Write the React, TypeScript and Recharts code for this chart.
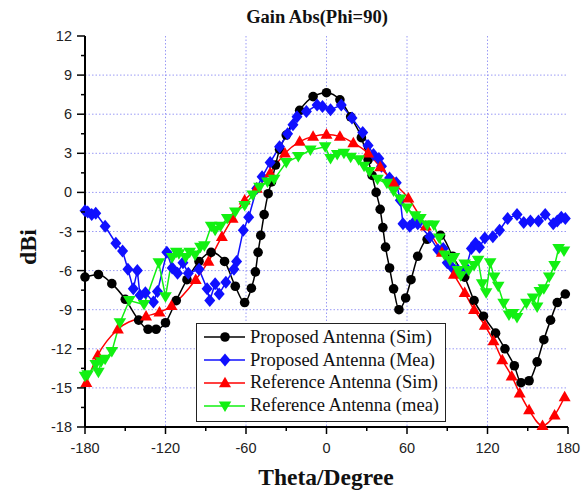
import React from 'react'
import { LineChart, Line, XAxis, YAxis, CartesianGrid, Legend } from 'recharts'

// theta (deg) / gain (dBi)
const PROP_SIM_THETA = [-180, -170, -160, -150, -140, -133, -127, -120, -112, -104, -95, -86, -76, -68, -61, -56, -53, -51, -49, -46.5, -43.5, -41, -38, -35, -30, -20, -10, 0, 10, 18, 26, 31, 34, 37, 40, 42, 44, 47, 50, 54, 59, 63, 68, 75, 85, 94, 103, 110, 117, 126, 133, 140, 145, 151, 157, 162, 167, 172, 178]
const PROP_SIM_GAIN = [-6.5, -6.3, -7.0, -8.2, -9.8, -10.5, -10.5, -10.0, -8.3, -6.7, -5.3, -4.6, -5.3, -7.2, -8.45, -7.35, -6.1, -4.6, -3.3, -1.7, -0.1, 0.8, 2.1, 3.3, 4.4, 6.3, 7.35, 7.65, 7.1, 5.8, 4.2, 2.5, 1.3, 0.0, -1.3, -2.7, -4.2, -5.8, -7.4, -9.0, -8.1, -6.7, -4.9, -3.6, -3.3, -4.9, -6.5, -8.3, -9.5, -10.8, -12.0, -13.3, -14.6, -14.45, -13.0, -11.3, -9.8, -8.45, -7.8]

const PROP_MEA_THETA = [-180, -178, -175, -172, -165, -157, -152, -148, -144, -141, -139, -135, -129, -126, -119, -115, -111, -107, -103, -95, -89, -87, -83, -80, -75, -69, -67, -62, -58, -52, -48, -42, -35, -29, -25, -22, -15, -7, -3, 3, 11, 19, 27, 31, 35, 39, 41, 47, 52, 55, 57, 62, 65, 68, 77, 83, 87, 90, 94, 98, 104, 108, 111, 114, 118, 124, 129, 135, 142, 147, 152, 158, 163, 169, 172, 175, 178]
const PROP_MEA_GAIN = [-1.4, -1.5, -1.7, -1.6, -2.6, -3.9, -4.5, -5.9, -7.4, -6.0, -7.9, -7.7, -8.4, -7.6, -4.6, -5.8, -6.2, -5.4, -6.2, -5.9, -7.4, -8.3, -7.0, -7.8, -6.9, -5.9, -5.3, -2.9, -1.9, 0.3, 1.2, 2.3, 3.5, 4.5, 5.2, 5.8, 6.2, 6.7, 6.6, 6.35, 6.7, 5.7, 4.6, 3.6, 2.9, 2.6, 2.0, 1.1, 0.75, -0.6, -2.4, -2.6, -2.3, -2.4, -3.4, -4.4, -4.3, -5.4, -5.8, -6.0, -5.8, -4.3, -3.9, -4.2, -3.5, -3.4, -2.9, -2.0, -1.7, -2.3, -2.2, -2.2, -1.7, -2.4, -2.2, -1.9, -2.0]

const REF_SIM_THETA = [-179, -170.5, -155.5, -134.5, -124.5, -115.5, -97.5, -88, -78, -70, -61, -52, -42, -31, -20, -10, 0, 10, 20, 31, 40, 50, 61, 74, 86, 95, 103, 110, 118, 124.5, 131, 138, 144, 151, 161, 170, 177.5]
const REF_SIM_GAIN = [-14.6, -12.5, -10.5, -9.5, -9.2, -8.7, -6.7, -5.3, -3.4, -2.0, -0.6, 0.3, 1.5, 3.0, 3.9, 4.3, 4.45, 4.3, 3.8, 3.0, 1.95, 0.75, -0.45, -2.6, -4.6, -6.3, -7.7, -9.0, -10.2, -11.4, -12.85, -14.1, -15.4, -16.7, -17.9, -17.1, -15.7]

const REF_MEA_THETA = [-180, -178, -172, -170, -168, -165, -160, -154, -147, -136, -125, -120, -115, -112, -110, -105, -102, -98, -94, -91, -86, -83, -79, -74, -68, -61, -55, -50, -44, -39, -30, -21, -12, -1, 3, 8, 13, 18, 24, 28, 32, 38, 45, 50, 55, 60, 66, 70, 75, 80, 84, 88, 92, 95, 98, 100, 103, 106, 110, 113, 116, 119, 122, 125, 128, 132, 136, 139, 142, 149, 154, 157, 159, 162, 166, 170, 173, 177]
const REF_MEA_GAIN = [-14.1, -14.0, -13.2, -13.8, -13.0, -12.8, -12.2, -10.0, -8.3, -8.6, -5.4, -8.0, -5.0, -4.6, -4.7, -5.0, -4.6, -4.8, -4.2, -4.1, -2.6, -2.9, -2.6, -2.0, -1.5, -1.0, -0.2, 0.4, 0.8, 1.0, 2.3, 2.75, 3.25, 3.5, 2.6, 2.9, 3.0, 2.7, 2.5, 2.0, 1.6, 1.0, 0.7, 0.1, -0.5, -1.2, -1.8, -2.0, -2.5, -2.5, -3.5, -4.8, -5.2, -5.0, -6.0, -6.4, -5.5, -6.0, -5.6, -5.2, -7.0, -7.7, -5.4, -6.5, -7.2, -8.5, -9.4, -9.3, -9.6, -8.5, -8.1, -8.8, -7.6, -7.4, -6.5, -5.6, -4.3, -4.5]

const X_MAJOR = [-180, -120, -60, 0, 60, 120, 180]
const X_ALL = [-180, -150, -120, -90, -60, -30, 0, 30, 60, 90, 120, 150, 180]
const Y_MAJOR = [-18, -15, -12, -9, -6, -3, 0, 3, 6, 9, 12]
const Y_ALL = [-18, -16.5, -15, -13.5, -12, -10.5, -9, -7.5, -6, -4.5, -3, -1.5, 0, 1.5, 3, 4.5, 6, 7.5, 9, 10.5, 12]

const SERIES_NAMES = ['Proposed Antenna (Sim)', 'Proposed Antenna (Mea)', 'Reference Antenna (Sim)', 'Reference Antenna (mea)']

const BLACK = '#000000'
const BLUE = '#1010ff'
const RED = '#ff0000'
const GREEN = '#12f012'
const SERIF = '"Liberation Serif", "Times New Roman", serif'
const SANS = '"Liberation Sans", Arial, sans-serif'

const zip = (t: number[], g: number[]) => t.map((v, i) => ({ t: v, g: g[i] }))

const propSim = zip(PROP_SIM_THETA, PROP_SIM_GAIN)
const propMea = zip(PROP_MEA_THETA, PROP_MEA_GAIN)
const refSim = zip(REF_SIM_THETA, REF_SIM_GAIN)
const refMea = zip(REF_MEA_THETA, REF_MEA_GAIN)

type Shape = 'circle' | 'diamond' | 'up' | 'down'

function marker(shape: Shape, cx: number, cy: number, color: string, key?: string) {
  if (shape === 'circle') return <circle key={key} cx={cx} cy={cy} r={4.8} fill={color} />
  if (shape === 'diamond')
    return <polygon key={key} points={`${cx},${cy - 6.5} ${cx + 5.5},${cy} ${cx},${cy + 6.5} ${cx - 5.5},${cy}`} fill={color} />
  if (shape === 'up')
    return <polygon key={key} points={`${cx},${cy - 6.2} ${cx + 6},${cy + 4.3} ${cx - 6},${cy + 4.3}`} fill={color} />
  return <polygon key={key} points={`${cx - 6.3},${cy - 4.5} ${cx + 6.3},${cy - 4.5} ${cx},${cy + 6}`} fill={color} />
}

const dotFor = (shape: Shape, color: string, name: string) => (p: any) =>
  marker(shape, p.cx, p.cy, color, `${name}-${p.index}`)

const isMajorX = (v: number) => X_MAJOR.includes(v)
const isMajorY = (v: number) => Y_MAJOR.includes(v)

function BottomTick({ x, y, payload }: any) {
  const major = isMajorX(payload.value)
  return (
    <g>
      <line x1={x} x2={x} y1={y} y2={y + (major ? 7 : 4)} stroke="#000" strokeWidth={1.5} />
      {major && (
        <text x={x} y={y + 26} textAnchor="middle" fontFamily={SANS} fontSize={14.5} fill="#222">
          {payload.value}
        </text>
      )}
    </g>
  )
}

function TopTick({ x, y, payload }: any) {
  const major = isMajorX(payload.value)
  return <line x1={x} x2={x} y1={y} y2={y + (major ? 6 : 4)} stroke="#000" strokeWidth={1.5} />
}

function LeftTick({ x, y, payload }: any) {
  const major = isMajorY(payload.value)
  return (
    <g>
      <line x1={x - (major ? 8 : 4)} x2={x} y1={y} y2={y} stroke="#000" strokeWidth={1.5} />
      {major && (
        <text x={x - 13} y={y + 5} textAnchor="end" fontFamily={SANS} fontSize={14.5} fill="#222">
          {payload.value}
        </text>
      )}
    </g>
  )
}

function RightTick({ x, y, payload }: any) {
  const major = isMajorY(payload.value)
  return <line x1={x - (major ? 6 : 4)} x2={x} y1={y} y2={y} stroke="#000" strokeWidth={1.5} />
}

const LEGEND_ITEMS: { shape: Shape; color: string }[] = [
  { shape: 'circle', color: BLACK },
  { shape: 'diamond', color: BLUE },
  { shape: 'up', color: RED },
  { shape: 'down', color: GREEN },
]

function LegendBox() {
  return (
    <div
      style={{
        width: 248,
        height: 95,
        border: '1px solid #222',
        background: '#fff',
        boxSizing: 'content-box',
        paddingTop: 2,
      }}
    >
      {LEGEND_ITEMS.map((it, i) => (
        <div key={i} style={{ display: 'flex', alignItems: 'center', height: 22.8 }}>
          <svg width={52} height={22} style={{ flex: 'none' }}>
            <line x1={7} x2={48} y1={11} y2={11} stroke={it.color} strokeWidth={1.5} />
            {marker(it.shape, 28, 11, it.color)}
          </svg>
          <span style={{ fontFamily: SERIF, fontSize: 18.5, color: '#111', whiteSpace: 'nowrap', marginLeft: 1 }}>
            {SERIES_NAMES[i]}
          </span>
        </div>
      ))}
    </div>
  )
}

export default function App() {
  return (
    <div style={{ position: 'absolute', left: 0, top: 0, width: 587, height: 493, background: '#fff' }}>
      <div
        style={{
          position: 'absolute', left: 0, width: 634, top: 7, textAlign: 'center',
          fontFamily: SERIF, fontWeight: 'bold', fontSize: 18.5, color: '#111',
        }}
      >
        Gain Abs(Phi=90)
      </div>
      <div
        style={{
          position: 'absolute', left: -22, top: 232, width: 100, height: 30, lineHeight: '30px',
          textAlign: 'center', transform: 'rotate(-90deg)',
          fontFamily: SERIF, fontWeight: 'bold', fontSize: 24, color: '#111', whiteSpace: 'nowrap',
        }}
      >
        dBi
      </div>
      <div
        style={{
          position: 'absolute', left: 0, width: 652, top: 464, textAlign: 'center',
          fontFamily: SERIF, fontWeight: 'bold', fontSize: 23.5, color: '#111',
        }}
      >
        Theta/Degree
      </div>
      <LineChart width={587} height={493} margin={{ top: 36, right: 19, left: 0, bottom: 0 }}>
        <CartesianGrid
          xAxisId="x"
          yAxisId="y"
          stroke="#9a9af5"
          strokeDasharray="1.5 2"
          verticalValues={X_MAJOR.slice(1, -1)}
          horizontalValues={Y_MAJOR.slice(1, -1)}
        />
        <XAxis
          xAxisId="x"
          dataKey="t"
          type="number"
          domain={[-180, 180]}
          ticks={X_ALL}
          interval={0}
          height={66}
          tickSize={0}
          tickMargin={0}
          tickLine={false}
          tick={<BottomTick />}
          axisLine={{ stroke: '#000', strokeWidth: 2 }}
        />
        <XAxis
          xAxisId="top"
          orientation="top"
          type="number"
          domain={[-180, 180]}
          ticks={X_ALL}
          interval={0}
          height={0}
          tickSize={0}
          tickMargin={0}
          tickLine={false}
          tick={<TopTick />}
          axisLine={{ stroke: '#000', strokeWidth: 2 }}
        />
        <YAxis
          yAxisId="y"
          type="number"
          domain={[-18, 12]}
          ticks={Y_ALL}
          interval={0}
          width={85}
          tickSize={0}
          tickMargin={0}
          tickLine={false}
          tick={<LeftTick />}
          axisLine={{ stroke: '#000', strokeWidth: 2 }}
        />
        <YAxis
          yAxisId="right"
          orientation="right"
          type="number"
          domain={[-18, 12]}
          ticks={Y_ALL}
          interval={0}
          width={0}
          tickSize={0}
          tickMargin={0}
          tickLine={false}
          tick={<RightTick />}
          axisLine={{ stroke: '#000', strokeWidth: 2 }}
        />
        <Line xAxisId="x" yAxisId="y" data={propSim} dataKey="g" name={SERIES_NAMES[0]} type="monotone"
          stroke={BLACK} strokeWidth={1.5} dot={dotFor('circle', BLACK, 'ps')} activeDot={false} isAnimationActive={false} />
        <Line xAxisId="x" yAxisId="y" data={propMea} dataKey="g" name={SERIES_NAMES[1]} type="linear"
          stroke={BLUE} strokeWidth={1.5} dot={dotFor('diamond', BLUE, 'pm')} activeDot={false} isAnimationActive={false} />
        <Line xAxisId="x" yAxisId="y" data={refSim} dataKey="g" name={SERIES_NAMES[2]} type="monotone"
          stroke={RED} strokeWidth={1.5} dot={dotFor('up', RED, 'rs')} activeDot={false} isAnimationActive={false} />
        <Line xAxisId="x" yAxisId="y" data={refMea} dataKey="g" name={SERIES_NAMES[3]} type="linear"
          stroke={GREEN} strokeWidth={1.5} dot={dotFor('down', GREEN, 'rm')} activeDot={false} isAnimationActive={false} />
        <Legend
          layout="vertical"
          align="center"
          verticalAlign="middle"
          content={() => <LegendBox />}
          wrapperStyle={{ position: 'absolute', left: 196, top: 323, width: 'auto', height: 'auto' }}
        />
      </LineChart>
    </div>
  )
}
